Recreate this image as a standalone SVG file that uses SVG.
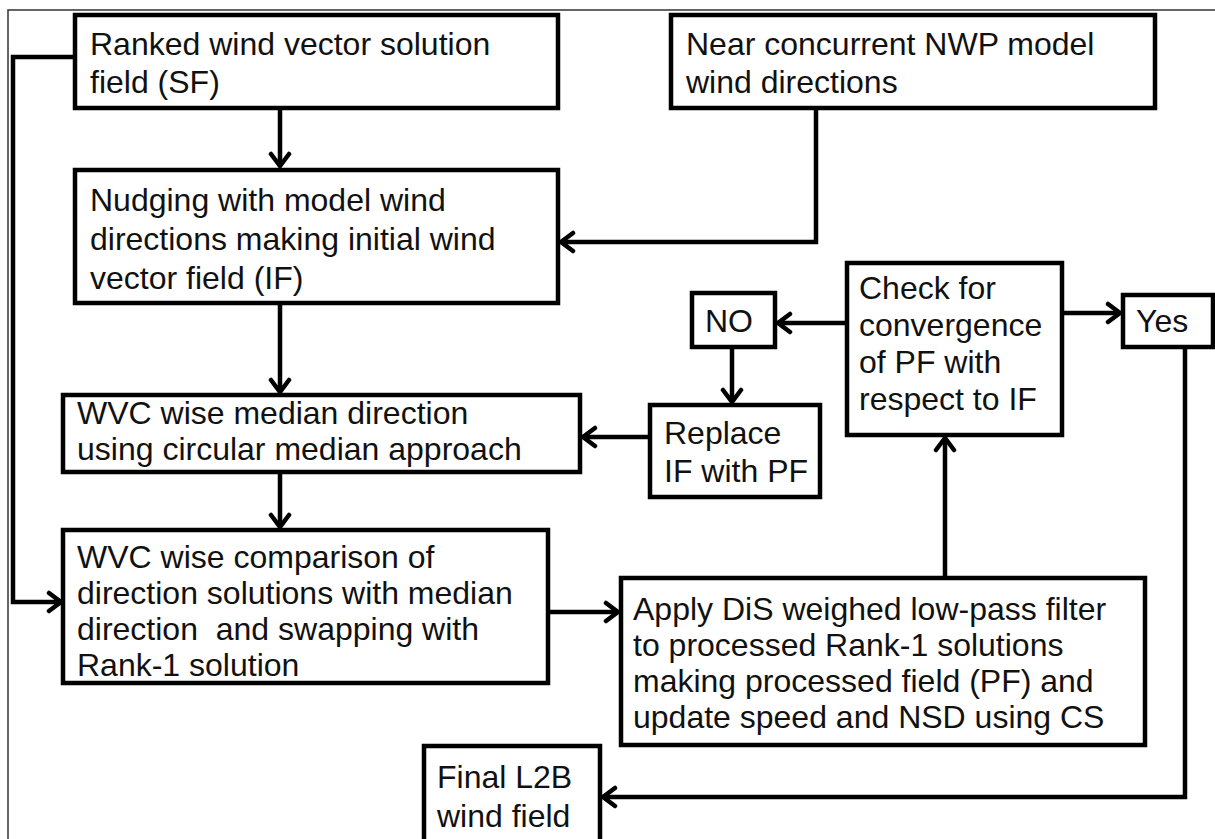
<svg xmlns="http://www.w3.org/2000/svg" width="1215" height="839" viewBox="0 0 1215 839">
<style>
.box{fill:#fff;stroke:#000;stroke-width:4.5}
.t{font-family:"Liberation Sans",Arial,sans-serif;font-size:32px;fill:#111}
.c{fill:none;stroke:#000;stroke-width:4.5}
</style>
<defs>
<marker id="ah" markerUnits="userSpaceOnUse" markerWidth="24" markerHeight="24" refX="16" refY="11" orient="auto" viewBox="0 0 24 22">
<path d="M4,2 L16,11 L4,20" fill="none" stroke="#000" stroke-width="4.5" stroke-linecap="round" stroke-linejoin="miter"/>
</marker>
</defs>
<rect x="0" y="0" width="1215" height="839" fill="#fff"/>
<rect x="8" y="10" width="1215" height="840" fill="none" stroke="#333" stroke-width="1.5"/>
<g id="connectors">
<path class="c" d="M75,57 H13 V602 H61" marker-end="url(#ah)"/>
<path class="c" d="M280,108 V166" marker-end="url(#ah)"/>
<path class="c" d="M816,108 V242 H561" marker-end="url(#ah)"/>
<path class="c" d="M280,303 V392" marker-end="url(#ah)"/>
<path class="c" d="M280,472 V527" marker-end="url(#ah)"/>
<path class="c" d="M548,612 H618" marker-end="url(#ah)"/>
<path class="c" d="M945,578 V438" marker-end="url(#ah)"/>
<path class="c" d="M847,323 H778" marker-end="url(#ah)"/>
<path class="c" d="M732,347 V402" marker-end="url(#ah)"/>
<path class="c" d="M650,437 H583" marker-end="url(#ah)"/>
<path class="c" d="M1062,313 H1120" marker-end="url(#ah)"/>
<path class="c" d="M1185,347 V797 H603" marker-end="url(#ah)"/>
</g>
<g id="n1"><rect class="box" x="75" y="15" width="483" height="93"/>
<text class="t" x="90" y="55">Ranked wind vector solution</text><text class="t" x="90" y="93">field (SF)</text></g>
<g id="n2"><rect class="box" x="671" y="15" width="484" height="93"/>
<text class="t" x="686" y="55">Near concurrent NWP model</text><text class="t" x="686" y="93">wind directions</text></g>
<g id="n3"><rect class="box" x="75" y="170" width="483" height="133"/>
<text class="t" x="90" y="211">Nudging with model wind</text><text class="t" x="90" y="250">directions making initial wind</text><text class="t" x="90" y="289">vector field (IF)</text></g>
<g id="n4"><rect class="box" x="63" y="395" width="517" height="77"/>
<text class="t" x="77" y="424">WVC wise median direction</text><text class="t" x="77" y="460">using circular median approach</text></g>
<g id="n5"><rect class="box" x="63" y="530" width="485" height="153"/>
<text class="t" x="77" y="568">WVC wise comparison of</text><text class="t" x="77" y="604">direction solutions with median</text><text class="t" x="77" y="640" xml:space="preserve">direction  and swapping with</text><text class="t" x="77" y="676">Rank-1 solution</text></g>
<g id="n6"><rect class="box" x="621" y="578" width="524" height="167"/>
<text class="t" x="633" y="620">Apply DiS weighed low-pass filter</text><text class="t" x="633" y="656">to processed Rank-1 solutions</text><text class="t" x="633" y="692">making processed field (PF) and</text><text class="t" x="633" y="728">update speed and NSD using CS</text></g>
<g id="n7"><rect class="box" x="424" y="746" width="176" height="96"/>
<text class="t" x="437" y="788">Final L2B</text><text class="t" x="437" y="827">wind field</text></g>
<g id="n8"><rect class="box" x="692" y="293" width="83" height="54"/>
<text class="t" x="705" y="332">NO</text></g>
<g id="n9"><rect class="box" x="650" y="405" width="170" height="92"/>
<text class="t" x="664" y="444">Replace</text><text class="t" x="664" y="482">IF with PF</text></g>
<g id="n10"><rect class="box" x="847" y="263" width="215" height="172"/>
<text class="t" x="859" y="299">Check for</text><text class="t" x="859" y="336">convergence</text><text class="t" x="859" y="373">of PF with</text><text class="t" x="859" y="410">respect to IF</text></g>
<g id="n11"><rect class="box" x="1123" y="295" width="90" height="52"/>
<text class="t" x="1136" y="332">Yes</text></g>
</svg>
